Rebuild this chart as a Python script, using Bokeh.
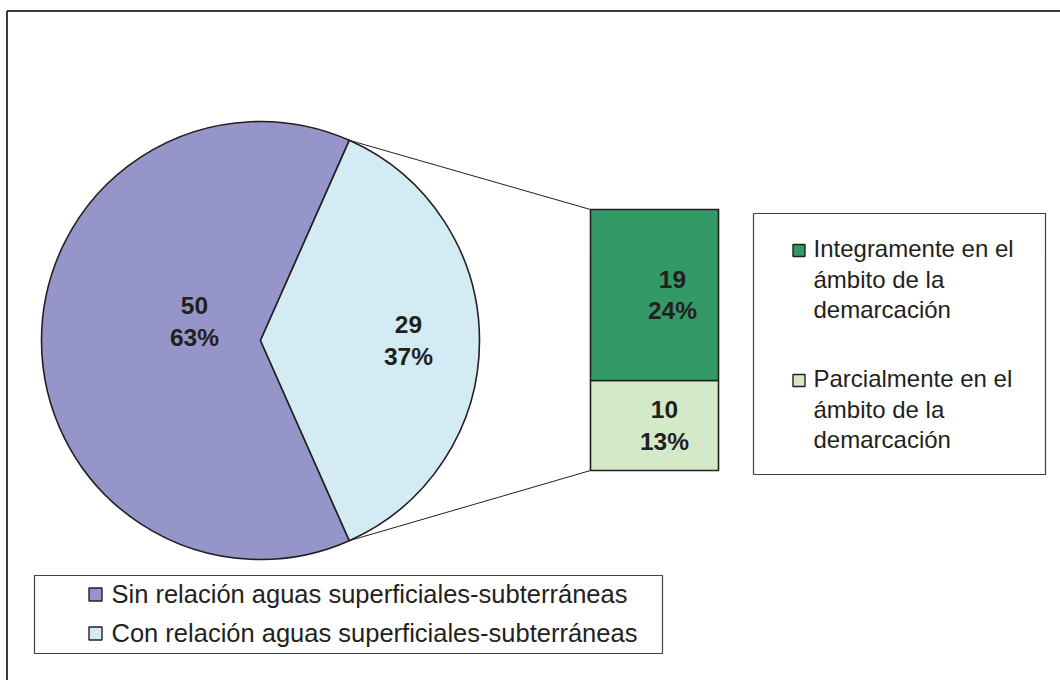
import math

from bokeh.core.properties import value
from bokeh.embed import file_html
from bokeh.models import Range1d
from bokeh.plotting import figure
from bokeh.resources import INLINE

# Pie: aquifers with / without surface-groundwater relation
pie_labels = [
    "Sin relación aguas superficiales-subterráneas",
    "Con relación aguas superficiales-subterráneas",
]
pie_values = [50, 29]
pie_colors = ["#9595C9", "#D3ECF3"]

# Bar breakdown of the "Con relación" slice
bar_labels = [
    "Integramente en el\námbito de la\ndemarcación",
    "Parcialmente en el\námbito de la\ndemarcación",
]
bar_values = [19, 10]
bar_colors = ["#339966", "#D3E9C8"]

W, H = 1060, 680
FONT = value("Liberation Sans")
INK = "#231F20"

total = sum(pie_values)

p = figure(
    width=W, height=H, output_backend="svg", toolbar_location=None,
    x_range=Range1d(0, W), y_range=Range1d(0, H),
    x_axis_type=None, y_axis_type=None, min_border=0,
    outline_line_color=None, background_fill_color="white",
)
p.grid.visible = False

# chart frame (only top and left edges show)
p.segment(x0=[6.5, 6.5], y0=[H - 10.5, H - 10.5], x1=[W, 6.5], y1=[H - 10.5, 0],
          line_color="#3A3A3A", line_width=2)

# ---- pie ----
cx, cy, r = 260, 340, 219
half = math.pi * pie_values[1] / total
starts = [half, -half]
ends = [2 * math.pi - half, half]
p.wedge(x=[cx, cx], y=[cy, cy], radius=r, start_angle=starts, end_angle=ends,
        fill_color=pie_colors, line_color=INK, line_width=1.6)

LABEL_SIZE = "24.5px"
pct = [f"{round(v / total * 100)}%" for v in pie_values]
pie_lx = [cx - 66, cx + 148]
pie_ly = [cy + 19, cy]
for lx, ly, v, pc in zip(pie_lx, pie_ly, pie_values, pct):
    p.text(x=[lx, lx], y=[ly + 16, ly - 16], text=[str(v), pc],
           text_font=FONT, text_font_style="bold", text_font_size=LABEL_SIZE,
           text_color=INK, text_align="center", text_baseline="middle")

# ---- stacked bar of the split slice ----
bar_base, px_per_unit = 210, 9.0
p.extra_y_ranges = {"bar": Range1d(-bar_base / px_per_unit, (H - bar_base) / px_per_unit)}
bar_x, bar_w = 654, 128
seg_vals = bar_values[::-1]          # bottom segment first
seg_cols = bar_colors[::-1]
bottoms, tops, acc = [], [], 0
for v in seg_vals:
    bottoms.append(acc)
    acc += v
    tops.append(acc)
p.vbar(x=[bar_x] * len(seg_vals), width=bar_w, bottom=bottoms, top=tops,
       fill_color=seg_cols, line_color=INK, line_width=1.6, y_range_name="bar")

bar_pct = [f"{round(v / total * 100)}%" for v in seg_vals]
bar_lx = [bar_x + 10, bar_x + 18]
for lx, b, t, v, pc in zip(bar_lx, bottoms, tops, seg_vals, bar_pct):
    mid = (b + t) / 2
    p.text(x=[lx, lx], y=[mid + 1.75, mid - 1.75], text=[str(v), pc],
           text_font=FONT, text_font_style="bold", text_font_size=LABEL_SIZE,
           text_color=INK, text_align="center", text_baseline="middle",
           y_range_name="bar")

# connector lines from the slice edges to the bar corners
bar_top = bar_base + sum(bar_values) * px_per_unit
px_edge = cx + r * math.cos(half)
p.segment(x0=[px_edge, px_edge], y0=[cy + r * math.sin(half), cy - r * math.sin(half)],
          x1=[bar_x - bar_w / 2] * 2, y1=[bar_top, bar_base],
          line_color=INK, line_width=1)

# ---- legend for the bar (right) ----
p.quad(left=[753], right=[1045], bottom=[H - 474], top=[H - 213],
       fill_color="white", line_color="#404040", line_width=1.2)
line_h = 30.5
group_top = [H - 248, H - 378]
for gy, lab, col in zip(group_top, bar_labels, bar_colors):
    p.rect(x=[798.5], y=[gy - 2], width=12, height=12, fill_color=col,
           line_color=INK, line_width=1.4)
    lines = lab.split("\n")
    p.text(x=[813] * len(lines), y=[gy - i * line_h for i in range(len(lines))],
           text=lines, text_font=FONT, text_font_size="24px", text_color=INK,
           text_align="left", text_baseline="middle")

# ---- legend for the pie (bottom) ----
p.quad(left=[34], right=[662], bottom=[H - 653], top=[H - 575],
       fill_color="white", line_color="#404040", line_width=1.2)
leg_y = [H - 593, H - 632]
p.rect(x=[95] * 2, y=[y - 1 for y in leg_y], width=13, height=13,
       fill_color=pie_colors, line_color=INK, line_width=1.4)
p.text(x=[111] * 2, y=leg_y, text=pie_labels, text_font=FONT,
       text_font_size="25.5px", text_color=INK, text_align="left",
       text_baseline="middle")

open("out.html", "w").write(file_html(p, INLINE))
